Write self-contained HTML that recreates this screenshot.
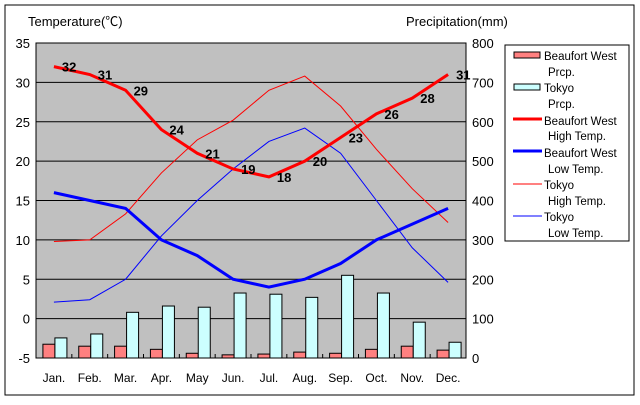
<!DOCTYPE html>
<html><head><meta charset="utf-8"><style>
body{margin:0;background:#fff;font-family:"Liberation Sans","Noto Sans CJK JP",sans-serif}
svg text{font-family:"Liberation Sans","Noto Sans CJK JP",sans-serif}
</style></head><body>
<svg id="c" width="640" height="400" xmlns="http://www.w3.org/2000/svg">
<rect x="5" y="5" width="629" height="390" fill="#fff" stroke="#000"/>
<rect x="36" y="43" width="430" height="315" fill="#c0c0c0" stroke="#000"/>
<text x="28" y="26" font-size="13">Temperature(℃)</text>
<text x="406" y="26" font-size="13">Precipitation(mm)</text>
<g id="grid"></g><g id="bars"></g><g id="lines"></g><g id="labels"></g>
<g>
<rect x="505" y="45" width="124" height="196" fill="#fff" stroke="#000"/>
<rect x="514" y="52" width="26" height="6" fill="#ff8080" stroke="#000"/>
<rect x="514" y="84" width="26" height="6" fill="#ccffff" stroke="#000"/>
<line x1="513" y1="119" x2="542" y2="119" stroke="#f00" stroke-width="3"/>
<line x1="513" y1="151" x2="542" y2="151" stroke="#00f" stroke-width="3"/>
<line x1="513" y1="184" x2="542" y2="184" stroke="#f00" stroke-width="1"/>
<line x1="513" y1="216" x2="542" y2="216" stroke="#00f" stroke-width="1"/>
<g font-size="11.5">
<text x="544" y="60">Beaufort West</text><text x="548" y="76">Prcp.</text>
<text x="544" y="92">Tokyo</text><text x="548" y="108">Prcp.</text>
<text x="544" y="125">Beaufort West</text><text x="548" y="140">High Temp.</text>
<text x="544" y="157">Beaufort West</text><text x="548" y="173">Low Temp.</text>
<text x="544" y="189">Tokyo</text><text x="548" y="205">High Temp.</text>
<text x="544" y="221">Tokyo</text><text x="548" y="237">Low Temp.</text>
</g></g>
</svg>
<script>
const months=["Jan.","Feb.","Mar.","Apr.","May","Jun.","Jul.","Aug.","Sep.","Oct.","Nov.","Dec."];
const tempTicks=[-5,0,5,10,15,20,25,30,35];
const precTicks=[0,100,200,300,400,500,600,700,800];
const bwPrcp=[35,30,30,22,12,8,10,15,12,22,30,20];
const tkPrcp=[51,61,116,132,129,165,162,154,210,165,91,40];
const bwHigh=[32,31,29,24,21,19,18,20,23,26,28,31];
const bwLow=[16,15,14,10,8,5,4,5,7,10,12,14];
const tkHigh=[9.8,10,13.3,18.5,22.7,25.2,29,30.8,27,21.5,16.5,12.2];
const tkLow=[2.1,2.4,5,10.5,15,19,22.5,24.2,21,15,9,4.6];
const NS="http://www.w3.org/2000/svg";
const L=36,R=466,T=43,B=358,cw=(R-L)/12;
const yT=v=>B-(v+5)/40*(B-T);
const yP=v=>B-v/800*(B-T);
const xC=i=>L+cw*(i+0.5);
function mk(tag,p,a){const e=document.createElementNS(NS,tag);for(const k in a)e.setAttribute(k,a[k]);document.getElementById(p).appendChild(e);return e;}
tempTicks.forEach(t=>{
 if(t>-5&&t<35){const g=mk('line','grid',{x1:L,x2:R,y1:yT(t),y2:yT(t),stroke:'#000','stroke-width':1});
 
 }
 const e=mk('text','grid',{x:30,y:yT(t)+5,'font-size':13,'text-anchor':'end'});e.textContent=t;
 
 
});
precTicks.forEach(t=>{const e=mk('text','grid',{x:472,y:yP(t)+5,'font-size':13});e.textContent=t;
 
 });
months.forEach((m,i)=>{
 if(i>0){mk('line','grid',{x1:L+cw*i,x2:L+cw*i,y1:B,y2:B-4,stroke:'#000'});}
 const e=mk('text','grid',{x:xC(i),y:382,'font-size':12,'text-anchor':'middle'});e.textContent=m;
 
 
 const b1=mk('rect','bars',{x:xC(i)-11,y:yP(bwPrcp[i]),width:12,height:B-yP(bwPrcp[i]),fill:'#ff8080',stroke:'#000'});
 
 
 const b2=mk('rect','bars',{x:xC(i)+1,y:yP(tkPrcp[i]),width:12,height:B-yP(tkPrcp[i]),fill:'#ccffff',stroke:'#000'});
 
 
});
function line(d,c,w,n){const p=mk('polyline','lines',{points:d.map((v,i)=>xC(i)+','+yT(v)).join(' '),fill:'none',stroke:c,'stroke-width':w});
 
 }
line(tkHigh,'#f00',1,'tokyo-high-line');
line(tkLow,'#00f',1,'tokyo-low-line');
line(bwHigh,'#f00',3,'beaufort-high-line');
line(bwLow,'#00f',3,'beaufort-low-line');
bwHigh.forEach((v,i)=>{const e=mk('text','labels',{x:xC(i)+8,y:yT(v)+5,'font-size':13,'font-weight':'bold'});e.textContent=v;
 
 });
</script>
</body></html>
